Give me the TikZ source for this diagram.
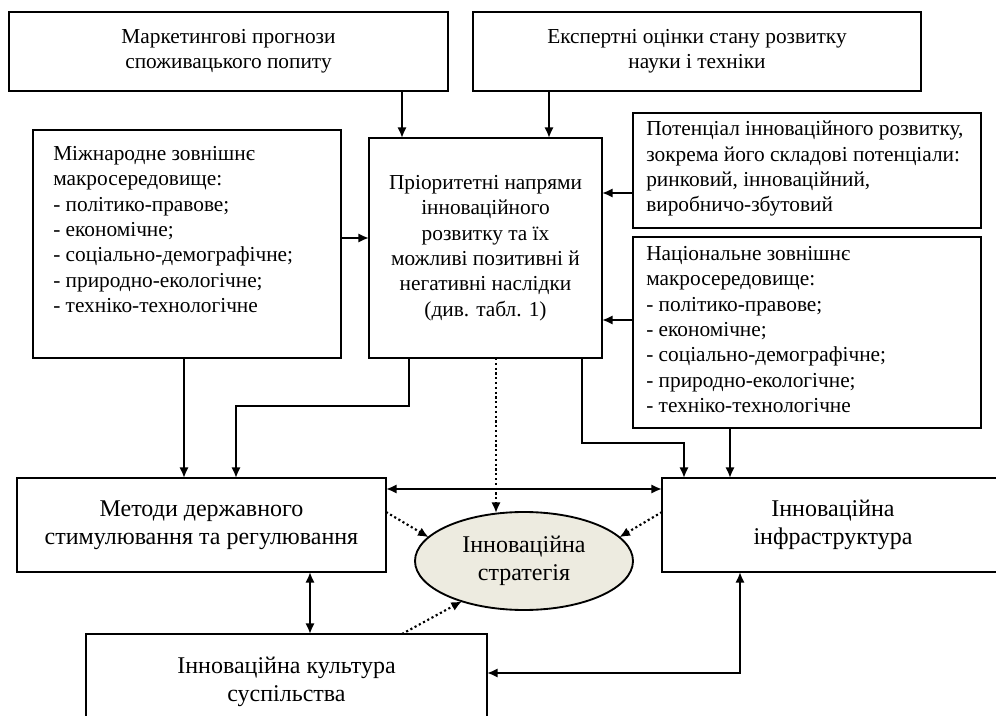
\documentclass[tikz,border=0pt]{standalone}
\usepackage{fontspec}
\setmainfont{Liberation Serif}
\usetikzlibrary{arrows.meta,shapes.geometric}
\definecolor{ellfill}{HTML}{EDEBE0}
\begin{document}
\begin{tikzpicture}[x=0.75pt,y=-0.75pt,
  box/.style 2 args={draw, line width=1.4pt, rectangle, inner sep=0pt, outer sep=0pt,
    minimum width=#1*0.75pt, minimum height=#2*0.75pt, align=center},
  small/.style={font=\fontsize{16}{19}\selectfont},
  big/.style={font=\fontsize{18}{21}\selectfont},
  lst/.style={small, align=left, inner sep=0pt, anchor=north west},
  arr/.style={line width=1.9pt, -{Latex[length=8pt,width=7pt]}},
  darr/.style={line width=1.9pt, {Latex[length=8pt,width=7pt]}-{Latex[length=8pt,width=7pt]}},
  dotarr/.style={line width=1.6pt, dotted, -{Latex[length=8pt,width=7pt]}},
]
\useasboundingbox (0,0) rectangle (996,716);
\clip (0,0) rectangle (996,716);

% boxes
\node[box={439}{79}, small] (mk) at (228.5,51.5) {Маркетингові прогнози\\споживацького попиту};
\node[box={448}{79}, small] (ex) at (697,51.5) {Експертні оцінки стану розвитку\\науки і техніки};
\node[box={233}{220}, small] (cb) at (485.5,248) {Пріоритетні напрями\\інноваційного\\розвитку та їх\\можливі позитивні й\\негативні наслідки\\(див. табл. 1)};
\node[box={308}{228}] (mz) at (187,244) {};
\node[lst] (mzt) at (53,146) {Міжнародне зовнішнє\\макросередовище:\\- політико-правове;\\- економічне;\\- соціально-демографічне;\\- природно-екологічне;\\- техніко-технологічне};
\node[box={348}{115}] (pt) at (807,170.5) {};
\node[lst] (ptt) at (646,121) {Потенціал інноваційного розвитку,\\зокрема його складові потенціали:\\ринковий, інноваційний,\\виробничо-збутовий};
\node[box={348}{191}] (nt) at (807,332.5) {};
\node[lst] (ntt) at (646,246) {Національне зовнішнє\\макросередовище:\\- політико-правове;\\- економічне;\\- соціально-демографічне;\\- природно-екологічне;\\- техніко-технологічне};
\node[box={369}{94}, big] (md) at (201.5,525) {Методи державного\\стимулювання та регулювання};
\node[box={342}{94}, big] (inf) at (833,525) {Інноваційна\\інфраструктура};
\node[box={401}{96}, big] (kl) at (286.5,682) {Інноваційна культура\\суспільства};
\node[draw, line width=1.4pt, ellipse, fill=ellfill, inner sep=0pt, outer sep=0pt,
  minimum width=218*0.75pt, minimum height=98*0.75pt, align=center, big] (el) at (524,561) {Інноваційна\\стратегія};

% connectors
\draw[arr] (402,0 |- mk.south) -- (402,0 |- cb.north);
\draw[arr] (549,0 |- ex.south) -- (549,0 |- cb.north);
\draw[arr] (mz.east |- 0,238) -- (cb.west |- 0,238);
\draw[arr] (pt.west |- 0,193) -- (cb.east |- 0,193);
\draw[arr] (nt.west |- 0,320) -- (cb.east |- 0,320);
\draw[arr] (184,0 |- mz.south) -- (184,0 |- md.north);
\draw[arr] (409,0 |- cb.south) |- (236,406) -- (236,0 |- md.north);
\draw[arr] (582,0 |- cb.south) |- (684,443) -- (684,0 |- inf.north);
\draw[arr] (730,0 |- nt.south) -- (730,0 |- inf.north);
\draw[dotarr] (496,0 |- cb.south) -- (496,513);
\draw[dotarr] (md.east |- 0,512) -- (el.166);
\draw[dotarr] (inf.west |- 0,512) -- (el.14);
\draw[dotarr] (402,0 |- kl.north) -- (el.213);
\draw[darr] (md.east |- 0,489) -- (inf.west |- 0,489);
\draw[darr] (310,0 |- md.south) -- (310,0 |- kl.north);
\draw[darr] (740,0 |- inf.south) |- (kl.east |- 0,673);
\end{tikzpicture}
\end{document}
